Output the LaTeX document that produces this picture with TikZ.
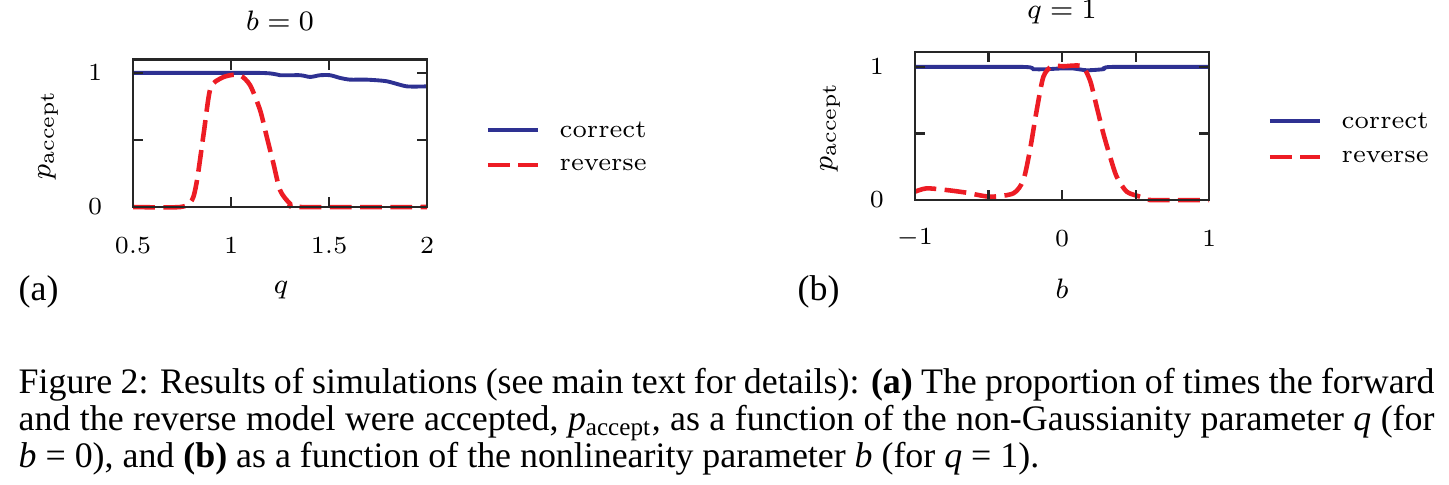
\documentclass[tikz,border=0pt]{standalone}
\usepackage{fontspec}
\newfontfamily\capfont{Liberation Serif}
\usetikzlibrary{positioning}
\definecolor{correctblue}{RGB}{46,49,146}
\definecolor{reversered}{RGB}{237,28,36}
\tikzset{
	frame/.style={line width=0.6pt, black!85},
	correct/.style={line width=1.1pt, correctblue},
	reverse/.style={line width=1.3pt, reversered, dash pattern=on 6.2pt off 2.4pt},
	ticklabel/.style={font=\fontsize{7.2}{8}\selectfont, inner sep=0pt},
	axislabel/.style={font=\fontsize{8}{9}\selectfont, inner sep=0pt},
	legendtext/.style={font=\fontsize{7.2}{8}\selectfont, anchor=west, inner sep=0pt},
	captext/.style={font=\capfont\fontsize{10.2}{10.5}\selectfont, anchor=base west, inner sep=0pt},
}

\begin{document}
\begin{tikzpicture}[x=0.01cm, y=-0.01cm]
	\useasboundingbox (0,0) rectangle (1449,484);

	% (a): b = 0
	\begin{scope}[shift={(35,207)}, x=1.96cm, y=1.34cm]
		\draw[correct] plot[smooth, tension=0.4] coordinates {(0.5,1) (1.148,1) (1.25,0.983) (1.352,0.983) (1.403,0.970) (1.454,0.983) (1.505,0.983) (1.555,0.963) (1.606,0.950) (1.691,0.950) (1.793,0.938) (1.895,0.900) (2,0.900)};
		\draw[reverse] plot[smooth, tension=0.45] coordinates {(0.5,0) (0.741,0) (0.800,0.050) (0.826,0.199) (0.860,0.547) (0.894,0.883) (0.945,0.958) (0.996,0.983) (1.046,0.983) (1.097,0.908) (1.148,0.721) (1.182,0.522) (1.216,0.323) (1.250,0.124) (1.301,0.025) (1.352,0) (2,0)};
		\draw[frame] (0.5,0) rectangle (2,1.1);
		\foreach \q in {1,1.5} {
			\draw[frame] (\q,0) -- ++(0,0.075);
			\draw[frame] (\q,1.1) -- ++(0,-0.075);
		}
		\foreach \p in {0.5,1} {
			\draw[frame] (0.5,\p) -- ++(0.05,0);
			\draw[frame] (2,\p) -- ++(-0.05,0);
		}
		\foreach \q [count=\i] in {0.5,1,1.5,2}
			\node[ticklabel] (xa\i) at (\q,-0.29) {$\q$};
		\node[ticklabel] (ya0) at (0.306,0) {$0$};
		\node[ticklabel] (ya1) at (0.306,1) {$1$};
	\end{scope}
	\node[axislabel] (titlea) at (280,21) {$b=0$};
	\node[axislabel] (qlabel) at (281,290) {$q$};
	\node[axislabel, rotate=90] (ylabela) at (48,135) {$p_{\mathrm{accept}}$};
	\node[captext] (tagA) at (18,300) {(a)};

	\node[legendtext] (corra) at (559,130) {correct};
	\node[legendtext] (reva) at (559,165) {reverse};
	\draw[correct] ([xshift=-0.71cm]corra.west) -- ([xshift=-0.21cm]corra.west);
	\draw[reverse] ([xshift=-0.71cm]reva.west) -- ([xshift=-0.21cm]reva.west);

	% (b): q = 1
	\begin{scope}[shift={(1062,200)}, x=1.47cm, y=1.33cm]
		\draw[correct] plot[smooth, tension=0.4] coordinates {(-1,1) (-0.263,1) (-0.195,0.983) (-0.104,0.983) (-0.014,0.988) (0.077,0.988) (0.168,0.975) (0.281,0.983) (0.338,1) (1,1)};
		\draw[reverse] plot[smooth, tension=0.45] coordinates {(-1,0.0625) (-0.921,0.0875) (-0.785,0.075) (-0.649,0.055) (-0.490,0.025) (-0.331,0.05) (-0.263,0.15) (-0.218,0.375) (-0.172,0.675) (-0.127,0.925) (-0.070,1.005) (0.009,1.005) (0.134,1.005) (0.190,0.90) (0.236,0.70) (0.281,0.50) (0.327,0.325) (0.372,0.175) (0.440,0.0625) (0.531,0.025) (0.599,0) (1,0)};
		\draw[frame] (-1,0) rectangle (1,1.11);
		\foreach \b in {-0.5,0,0.5} {
			\draw[frame] (\b,0) -- ++(0,0.075);
			\draw[frame] (\b,1.11) -- ++(0,-0.075);
		}
		\foreach \p in {0.5,1} {
			\draw[frame] (-1,\p) -- ++(0.068,0);
			\draw[frame] (1,\p) -- ++(-0.068,0);
		}
		\foreach \b [count=\i] in {-1,0,1}
			\node[ticklabel] (xb\i) at (\b,-0.286) {$\b$};
		\node[ticklabel] (yb0) at (-1.259,0) {$0$};
		\node[ticklabel] (yb1) at (-1.259,1) {$1$};
	\end{scope}
	\node[axislabel] (titleb) at (1062,12) {$q=1$};
	\node[axislabel] (blabel) at (1062,289) {$b$};
	\node[axislabel, rotate=90] (ylabelb) at (830,127) {$p_{\mathrm{accept}}$};
	\node[captext] (tagB) at (797,300) {(b)};

	\node[legendtext] (corrb) at (1341,121) {correct};
	\node[legendtext] (revb) at (1341,157) {reverse};
	\draw[correct] ([xshift=-0.71cm]corrb.west) -- ([xshift=-0.21cm]corrb.west);
	\draw[reverse] ([xshift=-0.71cm]revb.west) -- ([xshift=-0.21cm]revb.west);

	% caption
	\node[captext] (cap1) at (18,393) {\makebox[14.15cm][s]{Figure 2: Results of simulations (see main text for details): \textbf{(a)} The proportion of times the forward}};
	\node[captext] (cap2) at (18,430) {\makebox[14.15cm][s]{and the reverse model were accepted, \textit{p}\textsubscript{accept}, as a function of the non-Gaussianity parameter \textit{q} (for}};
	\node[captext] (cap3) at (18,467) {\textit{b} = 0), and \textbf{(b)} as a function of the nonlinearity parameter \textit{b} (for \textit{q} = 1).};
\end{tikzpicture}
\end{document}
